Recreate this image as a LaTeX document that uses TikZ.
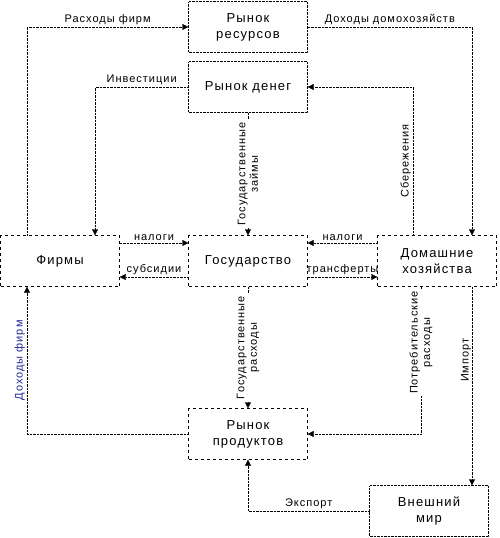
\documentclass[tikz,border=0pt]{standalone}
\usepackage{fontspec}
\setmainfont{Liberation Sans}
\newfontfamily\widefont[LetterSpace=9]{Liberation Sans}
\usetikzlibrary{arrows.meta}
\definecolor{labblue}{RGB}{40,40,150}

\begin{document}
\begin{tikzpicture}[x=1pt,y=-1pt]
	\tikzstyle{every node}+=[inner sep=0pt]
	\tikzstyle{box}=[draw, dashed, minimum width=119pt, minimum height=51pt, align=center, font=\widefont\fontsize{13}{16}\selectfont]
	\tikzstyle{boxd}=[box, densely dotted]
	\tikzstyle{flow}=[densely dotted, -{Triangle[length=6pt,width=6pt]}]
	\tikzstyle{lbl}=[font=\widefont\fontsize{11}{12.5}\selectfont, inner sep=2pt]
	\tikzstyle{vlbl}=[lbl, rotate=90, align=center]
	\useasboundingbox (0,0) rectangle (499,538);
	% markets and sectors
	\node [boxd] (rr) at (248,27) {Рынок\\ресурсов};
	\node [boxd] (rd) at (248,87) {Рынок денег};
	\node [box] (f) at (60,261) {Фирмы};
	\node [box] (g) at (248,261) {Государство};
	\node [box] (h) at (437,261) {Домашние\\хозяйства};
	\node [box] (rp) at (248,434) {Рынок\\продуктов};
	\node [boxd] (w) at (429,511) {Внешний\\мир};
	% bend points
	\coordinate (xf) at (27,0);
	\coordinate (xi) at (95,0);
	\coordinate (xs) at (413,0);
	\coordinate (xc) at (421,0);
	\coordinate (xm) at (472,0);
	\coordinate (yt) at (0,243);
	\coordinate (ys) at (0,277);
	% flows
	\draw [flow] (f.north -| xf) |- (rr.west) node [lbl, pos=0.75, above] {Расходы фирм};
	\draw [flow] (rr.east) -| (h.north -| xm) node [lbl, pos=0.25, above] {Доходы домохозяйств};
	\draw [flow] (rd.west) -| (f.north -| xi) node [lbl, pos=0.25, above] {Инвестиции};
	\draw [flow] (h.north -| xs) |- (rd.east) node [vlbl, pos=0.25, anchor=south] {Сбережения};
	\draw [flow] (rd.south) -- (g.north) node [vlbl, midway, fill=white] {Государственные\\займы};
	\draw [flow] (g.south) -- (rp.north) node [vlbl, midway, fill=white] {Государственные\\расходы};
	\draw [flow] (f.east |- yt) -- (g.west |- yt) node [lbl, midway, above] {налоги};
	\draw [flow] (g.west |- ys) -- (f.east |- ys) node [lbl, midway, above] {субсидии};
	\draw [flow] (h.west |- yt) -- (g.east |- yt) node [lbl, midway, above] {налоги};
	\draw [flow] (g.east |- ys) -- (h.west |- ys) node [lbl, midway, above] {трансферты};
	\draw [flow] (rp.west) -| (f.south -| xf) node [vlbl, pos=0.75, anchor=south, text=labblue] {Доходы фирм};
	\draw [flow] (h.south -| xc) |- (rp.east) node [vlbl, pos=0.19, fill=white] {Потребительские\\расходы};
	\draw [flow] (h.south -| xm) -- (w.north -| xm) node [vlbl, pos=0.37, anchor=south, inner sep=1pt] {Импорт};
	\draw [flow] (w.west) -| (rp.south) node [lbl, pos=0.25, above] {Экспорт};
\end{tikzpicture}
\end{document}
